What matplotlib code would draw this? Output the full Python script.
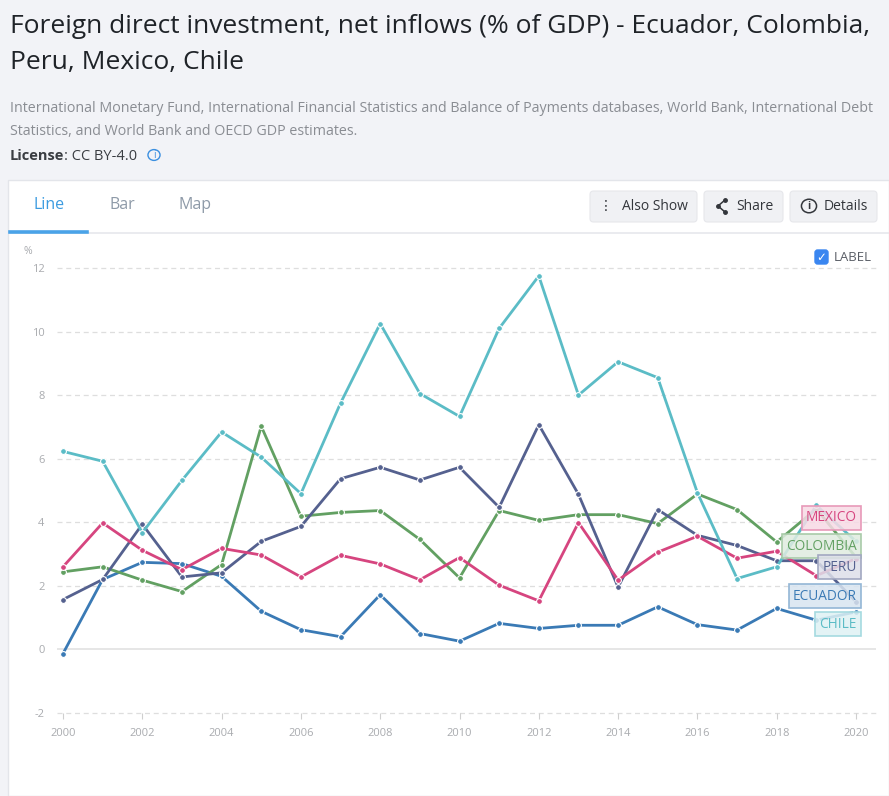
import matplotlib
matplotlib.use("Agg")
import matplotlib.pyplot as plt
from matplotlib.patches import FancyBboxPatch, Rectangle, Circle
from matplotlib.lines import Line2D
from matplotlib.colors import to_rgb

plt.rcParams['font.family'] = ['Open Sans', 'DejaVu Sans']

years = list(range(2000, 2021))
ecuador = [-0.13, 2.2, 2.74, 2.7, 2.3, 1.2, 0.62, 0.4, 1.72, 0.5, 0.26, 0.82, 0.66, 0.76, 0.76, 1.34, 0.78, 0.61, 1.29, 0.92, 1.18]
colombia = [2.44, 2.6, 2.18, 1.82, 2.67, 7.02, 4.19, 4.31, 4.37, 3.46, 2.25, 4.37, 4.06, 4.24, 4.24, 3.96, 4.89, 4.4, 3.38, 4.42, 2.9]
peru = [1.57, 2.2, 3.94, 2.28, 2.41, 3.4, 3.87, 5.37, 5.73, 5.33, 5.73, 4.47, 7.07, 4.88, 1.96, 4.4, 3.59, 3.27, 2.79, 2.79, 1.5]
mexico = [2.6, 3.98, 3.12, 2.51, 3.18, 2.97, 2.28, 2.96, 2.69, 2.19, 2.89, 2.02, 1.53, 3.99, 2.18, 3.06, 3.56, 2.87, 3.09, 2.32, 2.86]
chile = [6.23, 5.92, 3.67, 5.32, 6.84, 6.05, 4.9, 7.75, 10.25, 8.05, 7.33, 10.1, 11.75, 8.0, 9.05, 8.55, 4.93, 2.23, 2.6, 4.53, 3.4]

series_names = ["ECUADOR", "COLOMBIA", "PERU", "MEXICO", "CHILE"]
series_values = [ecuador, colombia, peru, mexico, chile]
series_colors = ["#3a7ab5", "#62a062", "#55618f", "#d6457f", "#5bbcc6"]
label_y = [1.68, 3.25, 2.58, 4.15, 0.8]

x_ticks = list(range(2000, 2021, 2))
y_ticks = [-2, 0, 2, 4, 6, 8, 10, 12]

W, H = 889, 796
fig = plt.figure(figsize=(W / 100, H / 100), dpi=100)
fig.patch.set_facecolor("#f2f3f7")


def fx(x):
    return x / W


def fy(y):
    return 1 - y / H


def tint(c, f):
    r, g, b = to_rgb(c)
    return (1 - f + f * r, 1 - f + f * g, 1 - f + f * b)


# white card
card = Rectangle((fx(8), 0), 1 - fx(8), fy(180), transform=fig.transFigure,
                 facecolor="white", edgecolor="#e3e5ea", linewidth=1, zorder=0)
fig.add_artist(card)

# header texts
fig.text(fx(10), fy(33), "Foreign direct investment, net inflows (% of GDP) - Ecuador, Colombia,",
         fontsize=19, color="#1f2328", va="baseline", ha="left")
fig.text(fx(10), fy(69), "Peru, Mexico, Chile", fontsize=19, color="#1f2328", va="baseline", ha="left")
fig.text(fx(10), fy(112), "International Monetary Fund, International Financial Statistics and Balance of Payments databases, World Bank, International Debt",
         fontsize=10.3, color="#8a8d93", va="baseline", ha="left")
fig.text(fx(10), fy(135), "Statistics, and World Bank and OECD GDP estimates.",
         fontsize=10.3, color="#8a8d93", va="baseline", ha="left")
fig.text(fx(10), fy(160), "License", fontsize=10.5, color="#3a3d42", va="baseline",
         ha="left", fontweight="bold")
fig.text(fx(64), fy(160), ": CC BY-4.0", fontsize=10.5, color="#3a3d42", va="baseline", ha="left")
fig.add_artist(Circle((fx(154), fy(155)), 0.0068, transform=fig.transFigure,
                      facecolor="none", edgecolor="#3b8fe0", linewidth=1))
fig.text(fx(154), fy(155), "i", fontsize=7, color="#3b8fe0", ha="center", va="center")

# tabs
fig.text(fx(49), fy(205), "Line", fontsize=11.5, color="#3b9be0", ha="center", va="center")
fig.text(fx(122), fy(205), "Bar", fontsize=11.5, color="#8e9aa8", ha="center", va="center")
fig.text(fx(195), fy(205), "Map", fontsize=11.5, color="#8e9aa8", ha="center", va="center")
fig.add_artist(Line2D([fx(10), fx(889)], [fy(233), fy(233)], transform=fig.transFigure,
                      color="#e6e8ec", linewidth=1.2))
fig.add_artist(Line2D([fx(10), fx(87)], [fy(232), fy(232)], transform=fig.transFigure,
                      color="#4aa3e8", linewidth=2.6))

# buttons
buttons = [(590, 697), (704, 783), (790, 877)]
for x0, x1 in buttons:
    b = FancyBboxPatch((fx(x0), fy(222)), fx(x1 - x0), fy(191) - fy(222),
                       boxstyle="round,pad=0,rounding_size=0.004", mutation_aspect=W / H,
                       transform=fig.transFigure, facecolor="#f0f1f4", edgecolor="#e6e7eb",
                       linewidth=0.8)
    fig.add_artist(b)
fig.text(fx(622), fy(206), "Also Show", fontsize=10, color="#33363b", ha="left", va="center")
fig.text(fx(606), fy(206), "\u22ee", fontsize=10, color="#33363b", ha="center", va="center",
         family=["DejaVu Sans"])
fig.text(fx(736), fy(206), "Share", fontsize=10, color="#33363b", ha="left", va="center")
sx = [fx(725), fx(718), fx(725)]
sy = [fy(200), fy(206), fy(212)]
fig.add_artist(Line2D(sx, sy, transform=fig.transFigure, color="#33363b", linewidth=1.1,
                      marker="o", markersize=2.5))
fig.text(fx(824), fy(206), "Details", fontsize=10, color="#33363b", ha="left", va="center")
fig.add_artist(Circle((fx(809), fy(206)), 0.0085, transform=fig.transFigure,
                      facecolor="none", edgecolor="#33363b", linewidth=1.1))
fig.text(fx(809), fy(206.5), "i", fontsize=7.5, color="#33363b", ha="center", va="center",
         fontweight="bold")

# checkbox LABEL
cb = FancyBboxPatch((fx(815), fy(264)), fx(13), fy(250) - fy(264),
                    boxstyle="round,pad=0,rounding_size=0.003", mutation_aspect=W / H,
                    transform=fig.transFigure, facecolor="#3a86f0", edgecolor="#3a86f0")
fig.add_artist(cb)
fig.text(fx(821.5), fy(257.5), "\u2713", fontsize=8.5, color="white", ha="center", va="center",
         fontweight="bold", family=["DejaVu Sans"])
fig.text(fx(834), fy(257.5), "LABEL", fontsize=9.5, color="#5a5e66", ha="left", va="center")

# axes
ax_left_px, ax_right_px = 57, 876
y_top_px, y_bot_px = 268, 713
x0_px, x1_px = 63, 856
px_per_year = (x1_px - x0_px) / 20.0
xlim_lo = 2000 + (ax_left_px - x0_px) / px_per_year
xlim_hi = 2000 + (ax_right_px - x0_px) / px_per_year
ax = fig.add_axes([fx(ax_left_px), fy(y_bot_px), fx(ax_right_px - ax_left_px),
                   fy(y_top_px) - fy(y_bot_px)])
ax.set_xlim(xlim_lo, xlim_hi)
ax.set_ylim(-2, 12)
ax.set_facecolor("none")
for s in ax.spines.values():
    s.set_visible(False)

for yv in y_ticks:
    if yv == 0:
        ax.axhline(0, color="#e4e4e4", linewidth=1.3, zorder=1)
    else:
        ax.axhline(yv, color="#dedede", linewidth=0.9, linestyle=(0, (4, 3)), zorder=1,
                   clip_on=False)

for i in range(5):
    ax.plot(years, series_values[i], color=series_colors[i], linewidth=2.0, zorder=3 + i,
            marker="o", markersize=4.2, markeredgecolor="white", markeredgewidth=0.8,
            clip_on=False, solid_joinstyle="round")

ax.set_yticks(y_ticks)
ax.set_yticklabels([str(v) for v in y_ticks])
ax.set_xticks(x_ticks)
ax.set_xticklabels([str(v) for v in x_ticks])
ax.tick_params(axis="y", length=0, pad=9, labelsize=8, labelcolor="#a9abaf")
ax.tick_params(axis="x", length=4, width=0.8, color="#cfcfcf", pad=7, labelsize=8,
               labelcolor="#a9abaf", direction="out")

fig.text(fx(24), fy(251), "%", fontsize=7.5, color="#a9abaf", ha="left", va="center")

# end labels
label_x = 2000 + (857 - x0_px) / px_per_year
for i in range(5):
    c = series_colors[i]
    ax.annotate(series_names[i], xy=(label_x, label_y[i]), xycoords="data",
                ha="right", va="center", fontsize=9.8, color=c, zorder=20,
                bbox=dict(boxstyle="square,pad=0.33", facecolor=tint(c, 0.2) + (0.85,),
                          edgecolor=tint(c, 0.55), linewidth=1.2),
                annotation_clip=False)

fig.savefig("out.png", dpi=100, facecolor=fig.get_facecolor())
